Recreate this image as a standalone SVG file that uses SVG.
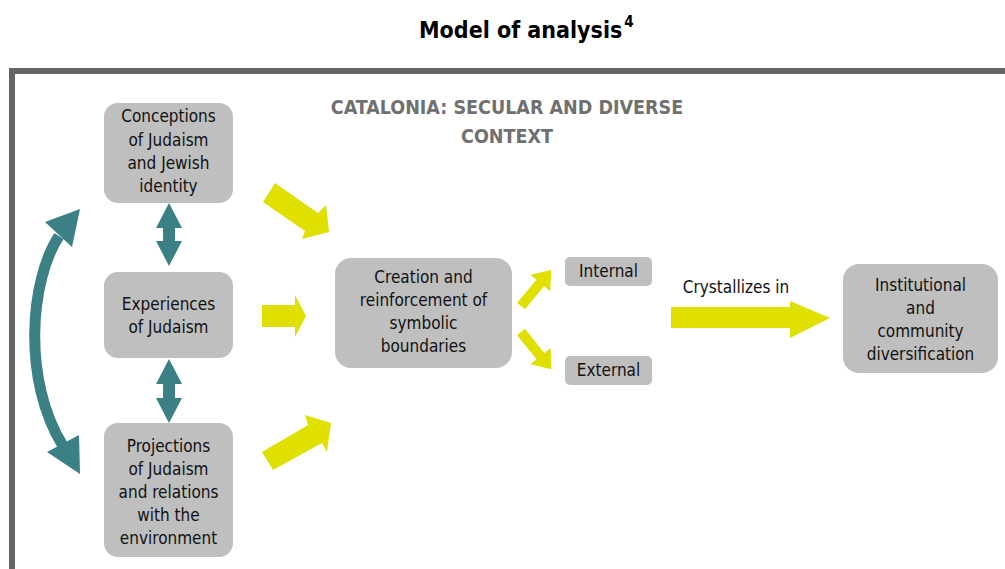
<svg xmlns="http://www.w3.org/2000/svg" width="1005" height="569" viewBox="0 0 1005 569">
  <style>
    .box { fill: #bfbfbf; }
    .lbl { font-family: "DejaVu Sans Condensed", "DejaVu Sans", sans-serif; font-size: 17px; fill: #111111; text-anchor: middle; }
    .head { font-family: "DejaVu Sans Condensed", "DejaVu Sans", sans-serif; font-weight: bold; font-size: 19.5px; fill: #707070; text-anchor: middle; }
    .yel { fill: #dfdf00; }
    .teal { fill: #3a8084; }
  </style>

  <rect width="1005" height="569" fill="#ffffff"/>

  <!-- title -->
  <text x="419" y="38" font-family="'DejaVu Sans Condensed', 'DejaVu Sans', sans-serif" font-weight="bold" font-size="23" fill="#000">Model of analysis<tspan font-size="15" dy="-11" dx="2">4</tspan></text>

  <!-- context frame -->
  <g id="frame">
    <path d="M12,569 V71 H1005" fill="none" stroke="#666666" stroke-width="6"/>
    <text class="head" x="507" y="114">CATALONIA: SECULAR AND DIVERSE</text>
    <text class="head" x="507" y="143">CONTEXT</text>
  </g>

  <!-- nodes -->
  <g id="conceptions">
    <rect class="box" x="104" y="103" width="129" height="100" rx="14"/>
    <text class="lbl" x="168.5" y="122">Conceptions</text>
    <text class="lbl" x="168.5" y="145.5">of Judaism</text>
    <text class="lbl" x="168.5" y="169">and Jewish</text>
    <text class="lbl" x="168.5" y="192">identity</text>
  </g>
  <g id="experiences">
    <rect class="box" x="104" y="272" width="129" height="86" rx="14"/>
    <text class="lbl" x="168.5" y="310">Experiences</text>
    <text class="lbl" x="168.5" y="333">of Judaism</text>
  </g>
  <g id="projections">
    <rect class="box" x="104" y="423" width="129" height="134" rx="14"/>
    <text class="lbl" x="168.5" y="452">Projections</text>
    <text class="lbl" x="168.5" y="475">of Judaism</text>
    <text class="lbl" x="168.5" y="498">and relations</text>
    <text class="lbl" x="168.5" y="521">with the</text>
    <text class="lbl" x="168.5" y="544">environment</text>
  </g>
  <g id="boundaries">
    <rect class="box" x="335" y="258" width="177" height="110" rx="16"/>
    <text class="lbl" x="423.5" y="283">Creation and</text>
    <text class="lbl" x="423.5" y="306">reinforcement of</text>
    <text class="lbl" x="423.5" y="329">symbolic</text>
    <text class="lbl" x="423.5" y="352">boundaries</text>
  </g>
  <g id="internal">
    <rect class="box" x="565" y="257" width="87" height="29" rx="5"/>
    <text class="lbl" x="608.5" y="277">Internal</text>
  </g>
  <g id="external">
    <rect class="box" x="565" y="356" width="87" height="29" rx="5"/>
    <text class="lbl" x="608.5" y="376">External</text>
  </g>
  <g id="diversification">
    <rect class="box" x="843" y="264" width="155" height="109" rx="16"/>
    <text class="lbl" x="920.5" y="291">Institutional</text>
    <text class="lbl" x="920.5" y="314">and</text>
    <text class="lbl" x="920.5" y="337">community</text>
    <text class="lbl" x="920.5" y="360">diversification</text>
  </g>

  <!-- connectors -->
  <g id="connectors">
    <!-- two-way links between the three dimensions -->
    <polygon class="teal" points="169,203 182,228 175,228 175,241 182,241 169,266 156,241 163,241 163,228 156,228"/>
    <polygon class="teal" points="169,359 182,384 175,384 175,398 182,398 169,423 156,398 163,398 163,384 156,384"/>
    <path d="M59,236 C30,280 22,380 63,446" fill="none" stroke="#3a8084" stroke-width="11"/>
    <polygon class="teal" points="80,209 45,222 72,247"/>
    <polygon class="teal" points="80,474 47,452 79,435"/>

    <!-- inputs to symbolic boundaries -->
    <polygon class="yel" points="275,183 318,213 326,205 329,232 302,239 305,231 263,202"/>
    <polygon class="yel" points="262,305 295,305 295,295 306,316 295,337 295,327 262,327"/>
    <polygon class="yel" points="262,452 308,425 305,415 331,423 327,452 322,443 273,470"/>

    <!-- internal / external split -->
    <polygon class="yel" transform="translate(521,306) rotate(-50)" points="0,-5 30,-5 30,-13 47,0 30,13 30,5 0,5"/>
    <polygon class="yel" transform="translate(521,332) rotate(51)" points="0,-5 31,-5 31,-13 48,0 31,13 31,5 0,5"/>

    <!-- crystallization -->
    <polygon class="yel" points="671,307 790,307 790,301 830,318 790,338 790,328 671,328"/>
    <text class="lbl" x="736" y="293">Crystallizes in</text>
  </g>
</svg>
